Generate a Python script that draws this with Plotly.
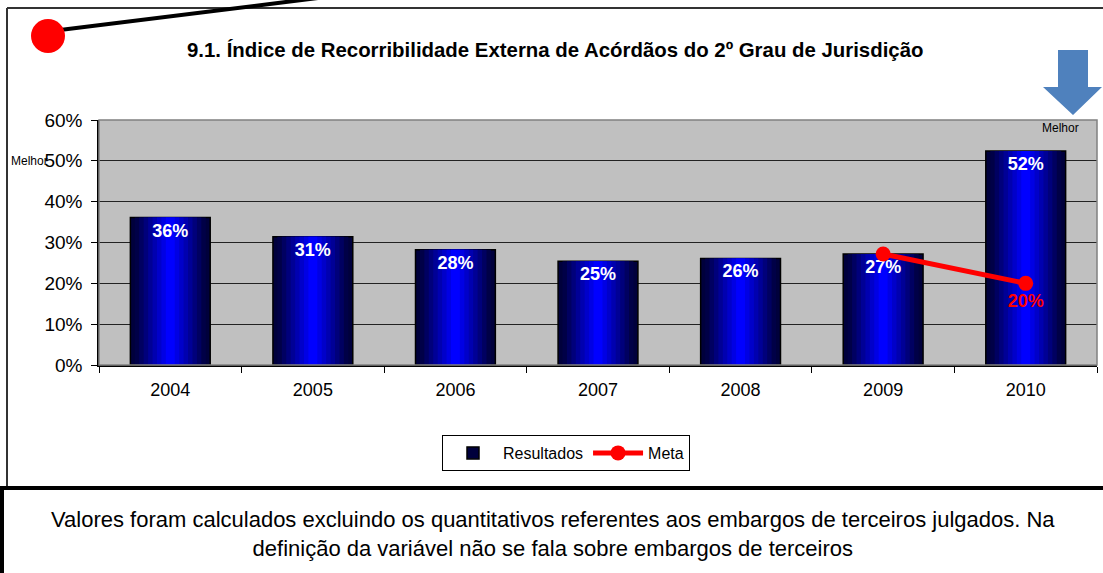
import plotly.graph_objects as go

# ---- data ----
years = ["2004", "2005", "2006", "2007", "2008", "2009", "2010"]
resultados = [36.1, 31.4, 28.2, 25.4, 26.1, 27.2, 52.4]
meta = [None, None, None, None, None, 27.2, 20.0]
y_ticks = [0, 10, 20, 30, 40, 50, 60]
y_tick_labels = [f"{v}%" for v in y_ticks]

title = "9.1. Índice de Recorribilidade Externa de Acórdãos do 2º Grau de Jurisdição"
note = ("Valores foram calculados excluindo os quantitativos referentes aos embargos de terceiros julgados. Na<br>"
        "definição da variável não se fala sobre embargos de terceiros")

W, H = 1103, 573
FONT = "Arial, 'Liberation Sans', sans-serif"


def px(x):
    return x / W


def py(y):
    return 1 - y / H


fig = go.Figure()

# gradient bars: layered overlay bars
BAR_W = 0.56
N = 9
for i in range(N):
    frac = 1 - i / N
    t = i / (N - 1)
    b = int(45 + (255 - 45) * t)
    color = f"rgb(0,0,{b})"
    last = i == N - 1
    fig.add_trace(go.Bar(
        x=years, y=resultados, width=BAR_W * frac,
        marker=dict(color=color if i else "rgb(0,0,60)",
                    line=dict(color="black", width=1.5 if i == 0 else 0)),
        name="Resultados", showlegend=(i == 0),
        texttemplate="%{y:.0f}%" if last else None,
        textposition="inside" if last else "none",
        insidetextanchor="end", constraintext="none", textangle=0,
        textfont=dict(color="white", size=18, family=FONT, weight="bold"),
        hoverinfo="skip" if not last else None,
    ))

meta_text = [f"{v:.0f}%" if (v is not None and i == len(meta) - 1) else "" for i, v in enumerate(meta)]
fig.add_trace(go.Scatter(
    x=years, y=meta, mode="lines+markers+text", name="Meta",
    line=dict(color="red", width=5), marker=dict(color="red", size=15),
    text=meta_text, textposition="bottom center",
    textfont=dict(color="red", size=18, family=FONT, weight="bold"),
    connectgaps=False,
))

shapes = [
    # plot area border
    dict(type="rect", xref="x domain", yref="y domain", x0=0, x1=1, y0=0, y1=1,
         line=dict(color="#808080", width=1.5), layer="above"),
    # outer frame
    dict(type="line", xref="paper", yref="paper", x0=px(7), x1=px(1103), y0=py(8), y1=py(8),
         line=dict(color="#333333", width=2)),
    dict(type="line", xref="paper", yref="paper", x0=px(7), x1=px(7), y0=py(8), y1=py(488),
         line=dict(color="#333333", width=2)),
    dict(type="line", xref="paper", yref="paper", x0=px(0), x1=px(1103), y0=py(488), y1=py(488),
         line=dict(color="black", width=4)),
    dict(type="line", xref="paper", yref="paper", x0=px(2), x1=px(2), y0=py(488), y1=py(573),
         line=dict(color="black", width=4)),
    # black line and red dot
    dict(type="line", xref="paper", yref="paper", x0=px(60), x1=px(318), y0=py(30), y1=py(-2),
         line=dict(color="black", width=4)),
    dict(type="circle", xref="paper", yref="paper", x0=px(31), x1=px(65), y0=py(53), y1=py(19),
         fillcolor="red", line=dict(color="red", width=0)),
    # blue arrow
    dict(type="path", xref="paper", yref="paper",
         path=(f"M {px(1058)},{py(50)} L {px(1088)},{py(50)} L {px(1088)},{py(87)} "
               f"L {px(1102)},{py(87)} L {px(1073)},{py(115)} L {px(1043)},{py(87)} "
               f"L {px(1058)},{py(87)} Z"),
         fillcolor="#4F81BD", line=dict(width=0)),
]

annotations = [
    dict(text=f"<b>{title}</b>", xref="paper", yref="paper", x=px(555), y=py(50),
         xanchor="center", yanchor="middle",
         showarrow=False, font=dict(size=20.4, color="black", family=FONT)),
    dict(text="Melhor", xref="paper", yref="paper", x=px(1060), y=py(128),
         xanchor="center", yanchor="middle",
         showarrow=False, font=dict(size=12, color="black", family=FONT)),
    dict(text="Melhor", xref="paper", yref="paper", x=px(9), y=py(161),
         xanchor="left", yanchor="middle",
         showarrow=False, font=dict(size=12, color="black", family=FONT)),
    dict(text=note, xref="paper", yref="paper", x=px(553), y=py(534),
         xanchor="center", yanchor="middle",
         showarrow=False, font=dict(size=22, color="black", family=FONT)),
]

fig.update_layout(
    width=W, height=H,
    margin=dict(l=0, r=0, t=0, b=0, autoexpand=False),
    paper_bgcolor="white", plot_bgcolor="#C0C0C0",
    barmode="overlay",
    shapes=shapes, annotations=annotations,
    font=dict(family=FONT, color="black"),
    xaxis=dict(domain=[px(99), px(1097)], showgrid=False, showline=True,
               linecolor="black", linewidth=1.5, ticks="outside", tickson="boundaries",
               ticklen=6, tickcolor="black", tickfont=dict(size=18), fixedrange=True,
               ticklabelstandoff=8),
    yaxis=dict(domain=[py(365), py(120)], range=[0, 60], tickmode="array",
               tickvals=y_ticks, ticktext=y_tick_labels,
               showgrid=True, gridcolor="#222222", gridwidth=1, showline=True,
               linecolor="black", linewidth=1.5, ticks="outside", ticklen=6,
               tickcolor="black", tickfont=dict(size=19), zeroline=False,
               ticklabelstandoff=5),
    legend=dict(orientation="h", x=px(566), y=py(435), xanchor="center", yanchor="top",
                bordercolor="black", borderwidth=1, bgcolor="white",
                font=dict(size=16), tracegroupgap=0, itemwidth=50),
)

fig.write_html("out.html", config={"displayModeBar": False},
               post_script="document.body.style.margin='0';")
